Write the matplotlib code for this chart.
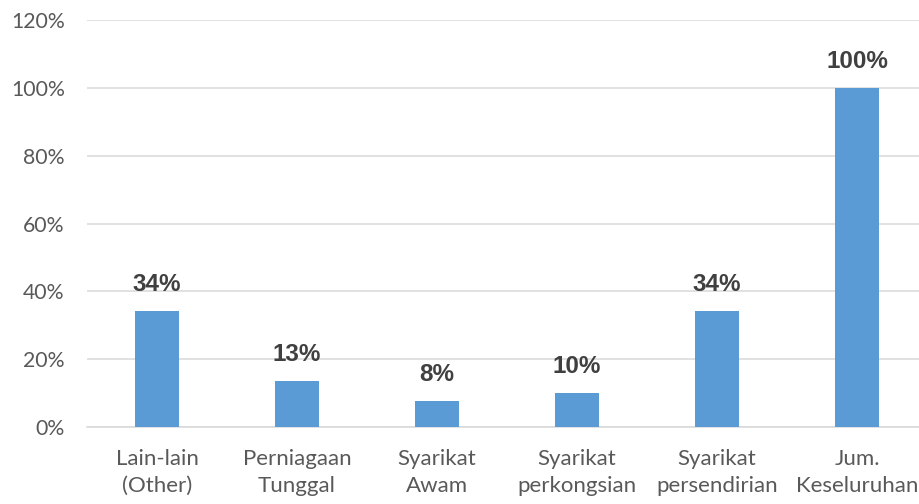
import matplotlib
matplotlib.use("Agg")
import matplotlib.pyplot as plt
from matplotlib.ticker import FuncFormatter

# data
categories = ["Lain-lain\n(Other)", "Perniagaan\nTunggal", "Syarikat\nAwam",
              "Syarikat\nperkongsian", "Syarikat\npersendirian", "Jum.\nKeseluruhan"]
values = [34.2, 13.6, 7.7, 10.0, 34.2, 100.0]
labels = ["34%", "13%", "8%", "10%", "34%", "100%"]
yticks = [0, 20, 40, 60, 80, 100, 120]

BLUE = "#5B9BD5"
GREY = "#595959"
GRID = "#D9D9D9"

fig = plt.figure(figsize=(9.2, 5.04), dpi=100)
ax = fig.add_axes([87 / 920, 77 / 504, 1 - 87 / 920, 407 / 504])

x = range(len(categories))
bars = ax.bar(x, values, width=0.314, color=BLUE, zorder=3)

for b, lab in zip(bars, labels):
    ax.annotate(lab, (b.get_x() + b.get_width() / 2, b.get_height()),
                xytext=(0, 11), textcoords="offset points", ha="center", va="bottom",
                fontsize=17.5, fontweight="bold", color="#404040", family="Liberation Sans")

ax.set_xlim(-0.5, 5.45)
ax.set_ylim(0, 120)
ax.set_yticks(yticks)
ax.yaxis.set_major_formatter(FuncFormatter(lambda v, p: f"{v:.0f}%"))
ax.set_xticks(list(x))
ax.set_xticklabels(categories, linespacing=1.4)

for lab in ax.get_yticklabels():
    lab.set_family("Lato")
    lab.set_fontsize(15.3)
    lab.set_color(GREY)
for lab in ax.get_xticklabels():
    lab.set_family("Lato")
    lab.set_fontsize(16)
    lab.set_color(GREY)

ax.tick_params(axis="y", length=0, pad=16)
ax.tick_params(axis="x", length=0, pad=16)
ax.grid(axis="y", color=GRID, linewidth=1.1, zorder=0)
for s in ["top", "right", "left"]:
    ax.spines[s].set_visible(False)
ax.spines["bottom"].set_color(GRID)
ax.spines["bottom"].set_linewidth(1.1)
ax.spines["bottom"].set_zorder(1)

fig.savefig("out.png", dpi=100)
